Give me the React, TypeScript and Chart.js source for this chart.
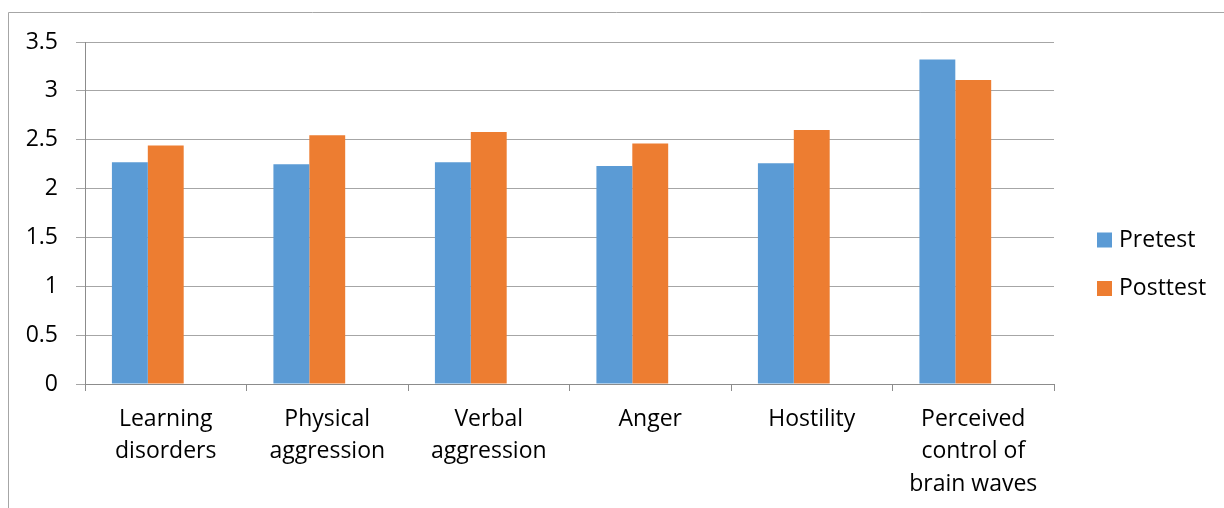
import React, { useEffect, useRef } from "react";
import { Chart, registerables } from "chart.js";

Chart.register(...registerables);

const categories: (string | string[])[] = [
  ["Learning", "disorders"],
  ["Physical", "aggression"],
  ["Verbal", "aggression"],
  "Anger",
  "Hostility",
  ["Perceived", "control of", "brain waves"],
];
const pretest = [2.27, 2.25, 2.27, 2.23, 2.26, 3.32];
const posttest = [2.44, 2.545, 2.58, 2.46, 2.6, 3.11];
// the reference reserves room for a third, empty series in each group
const emptySeries = [null, null, null, null, null, null];
const seriesNames = ["Pretest", "Posttest"];
const seriesColors = ["#5B9BD5", "#ED7D31"];
const yMin = 0;
const yMax = 3.5;
const yStep = 0.5;

const FONT = "'Open Sans', 'Noto Sans', sans-serif";

const framePlugin = {
  id: "frame",
  afterDraw(chart: any) {
    const ctx = chart.ctx;
    ctx.save();
    ctx.strokeStyle = "#a6a6a6";
    ctx.lineWidth = 1;
    ctx.beginPath();
    ctx.moveTo(8.5, chart.height);
    ctx.lineTo(8.5, 12.5);
    ctx.lineTo(chart.width, 12.5);
    ctx.stroke();
    ctx.restore();
  },
};

const legendPlugin = {
  id: "customLegend",
  afterDraw(chart: any) {
    const ctx = chart.ctx;
    ctx.save();
    ctx.font = `23px ${FONT}`;
    ctx.textBaseline = "middle";
    ctx.textAlign = "left";
    chart.data.datasets.forEach((ds: any, i: number) => {
      if (!ds.label) return;
      const cy = 240 + i * 48.5;
      ctx.fillStyle = ds.backgroundColor;
      ctx.fillRect(1097, cy - 7.5, 15, 15);
      ctx.fillStyle = "#000000";
      ctx.fillText(ds.label, 1119, cy);
    });
    ctx.restore();
  },
};

export default function App() {
  const ref = useRef<HTMLCanvasElement>(null);
  useEffect(() => {
    if (!ref.current) return;
    const chart = new Chart(ref.current, {
      type: "bar",
      data: {
        labels: categories,
        datasets: [
          { label: seriesNames[0], data: pretest, backgroundColor: seriesColors[0] },
          { label: seriesNames[1], data: posttest, backgroundColor: seriesColors[1] },
          { label: "", data: emptySeries, backgroundColor: "rgba(0,0,0,0)" },
        ],
      },
      options: {
        animation: false,
        responsive: false,
        maintainAspectRatio: false,
        layout: { padding: { left: 0, top: 42, right: 170, bottom: 0 } },
        plugins: {
          legend: { display: false },
          tooltip: { enabled: false },
        },
        datasets: {
          bar: { categoryPercentage: 2 / 3, barPercentage: 1.0 },
        },
        scales: {
          x: {
            afterFit: (s: any) => {
              s.height = 124;
            },
            grid: {
              drawOnChartArea: false,
              drawTicks: true,
              tickLength: 7,
              color: "#8c8c8c",
              offset: true,
            },
            border: { color: "#8c8c8c", width: 1 },
            ticks: {
              color: "#000000",
              padding: 12,
              maxRotation: 0,
              autoSkip: false,
              font: { family: FONT, size: 23, lineHeight: 1.41 },
            },
          },
          y: {
            min: yMin,
            max: yMax,
            afterFit: (s: any) => {
              s.width = 85;
            },
            grid: {
              color: "#a6a6a6",
              tickLength: 9,
              lineWidth: 1,
            },
            border: { color: "#8c8c8c", width: 1 },
            ticks: {
              stepSize: yStep,
              color: "#000000",
              padding: 18,
              font: { family: FONT, size: 23 },
              callback: (v: any) => String(Number(v)),
            },
          },
        },
      },
      plugins: [framePlugin, legendPlugin],
    });
    return () => chart.destroy();
  }, []);
  return (
    <div style={{ position: "fixed", left: 0, top: 0, width: 1224, height: 508, background: "#ffffff" }}>
      <canvas ref={ref} width={1224} height={508} style={{ display: "block" }} />
    </div>
  );
}
